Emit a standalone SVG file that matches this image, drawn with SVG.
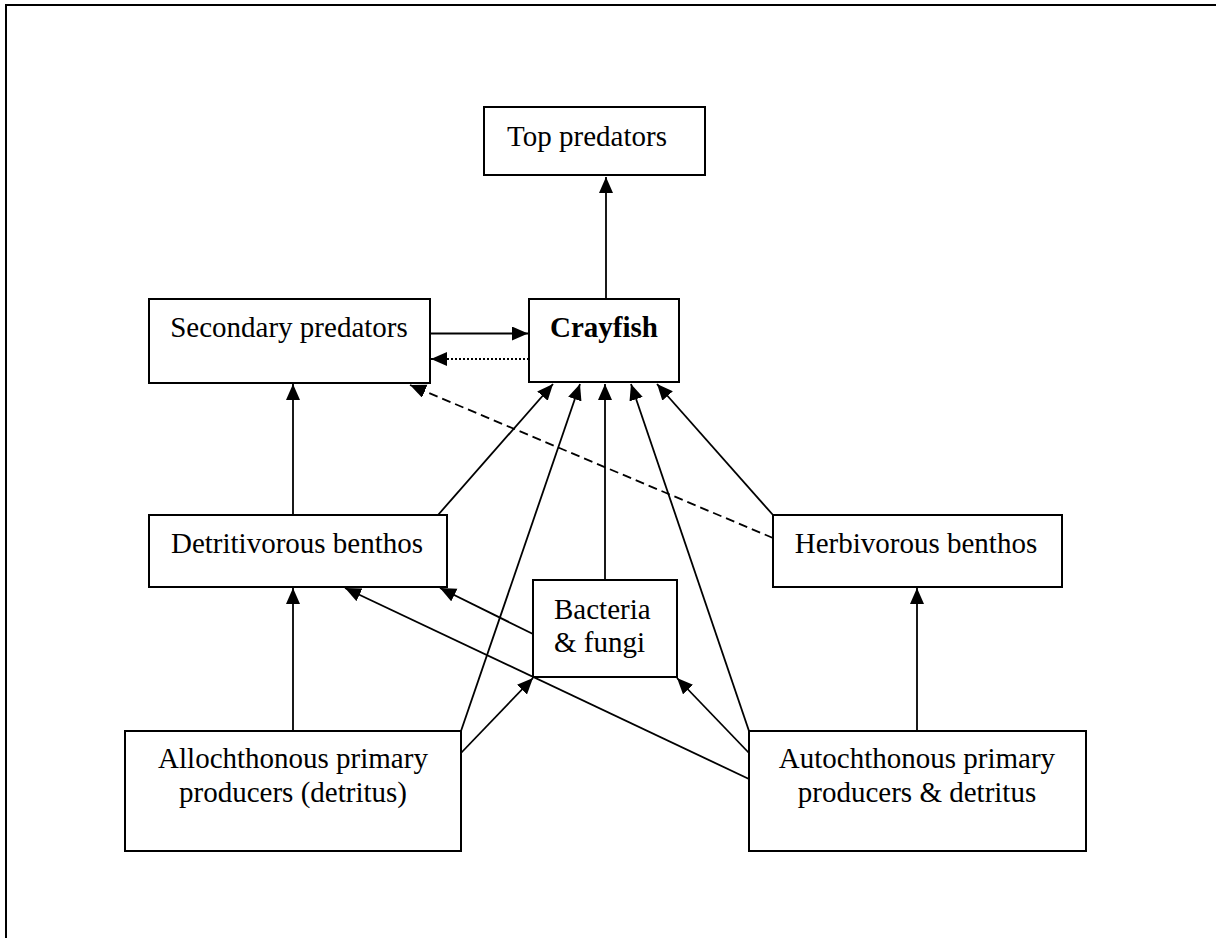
<svg xmlns="http://www.w3.org/2000/svg" width="1216" height="938" viewBox="0 0 1216 938">
<style>
.box{fill:#fff;stroke:#000;stroke-width:2}
.t{font-family:"Liberation Serif","Times New Roman",serif;font-size:29px;fill:#000;text-anchor:middle}
.c{fill:none;stroke:#000;stroke-width:1.8}
.dash{stroke-dasharray:9,5}
.dot{stroke-dasharray:2,2}
</style>
<defs>
<marker id="ah" markerUnits="userSpaceOnUse" markerWidth="17" markerHeight="15" refX="16" refY="7" orient="auto">
<path d="M0,0 L16,7 L0,14 z" fill="#000"/>
</marker>
</defs>
<rect width="1216" height="938" fill="#fff"/>
<path d="M6,938 V5 H1216" fill="none" stroke="#000" stroke-width="2"/>
<g id="connectors">
<line class="c" x1="606" y1="299" x2="606" y2="177" marker-end="url(#ah)"/>
<line class="c" x1="430" y1="333.5" x2="528" y2="333.5" marker-end="url(#ah)"/>
<line class="c dot" x1="529" y1="359" x2="431" y2="359" marker-end="url(#ah)"/>
<line class="c" x1="293" y1="515" x2="293" y2="384" marker-end="url(#ah)"/>
<line class="c" x1="293" y1="731" x2="293" y2="588" marker-end="url(#ah)"/>
<line class="c" x1="917" y1="731" x2="917" y2="588" marker-end="url(#ah)"/>
<line class="c" x1="438" y1="515" x2="553" y2="384" marker-end="url(#ah)"/>
<line class="c" x1="461" y1="731" x2="580" y2="384" marker-end="url(#ah)"/>
<line class="c" x1="605" y1="580" x2="605" y2="384" marker-end="url(#ah)"/>
<line class="c" x1="749" y1="731" x2="631" y2="384" marker-end="url(#ah)"/>
<line class="c" x1="773" y1="515" x2="657" y2="384" marker-end="url(#ah)"/>
<line class="c dash" x1="773" y1="538" x2="410" y2="385" marker-end="url(#ah)"/>
<line class="c" x1="533" y1="634" x2="440" y2="588" marker-end="url(#ah)"/>
<line class="c" x1="749" y1="779" x2="345" y2="588" marker-end="url(#ah)"/>
<line class="c" x1="461" y1="753" x2="533" y2="678" marker-end="url(#ah)"/>
<line class="c" x1="749" y1="753" x2="677" y2="678" marker-end="url(#ah)"/>
</g>
<g id="top-predators">
<rect class="box" x="484" y="107" width="221" height="68"/>
<text class="t" x="587" y="146">Top predators</text>
</g>
<g id="secondary-predators">
<rect class="box" x="149" y="299" width="281" height="84"/>
<text class="t" x="289" y="337">Secondary predators</text>
</g>
<g id="crayfish">
<rect class="box" x="529" y="299" width="150" height="83"/>
<text class="t" x="604" y="337" font-weight="bold">Crayfish</text>
</g>
<g id="detritivorous-benthos">
<rect class="box" x="149" y="515" width="298" height="72"/>
<text class="t" x="297" y="553">Detritivorous benthos</text>
</g>
<g id="herbivorous-benthos">
<rect class="box" x="773" y="515" width="289" height="72"/>
<text class="t" x="916" y="553">Herbivorous benthos</text>
</g>
<g id="bacteria-fungi">
<rect class="box" x="533" y="580" width="144" height="97"/>
<text class="t" x="554" y="619" style="text-anchor:start">Bacteria</text>
<text class="t" x="554" y="652" style="text-anchor:start">&amp; fungi</text>
</g>
<g id="allochthonous">
<rect class="box" x="125" y="731" width="336" height="120"/>
<text class="t" x="293" y="768">Allochthonous primary</text>
<text class="t" x="293" y="802">producers (detritus)</text>
</g>
<g id="autochthonous">
<rect class="box" x="749" y="731" width="337" height="120"/>
<text class="t" x="917" y="768">Autochthonous primary</text>
<text class="t" x="917" y="802">producers &amp; detritus</text>
</g>
</svg>
